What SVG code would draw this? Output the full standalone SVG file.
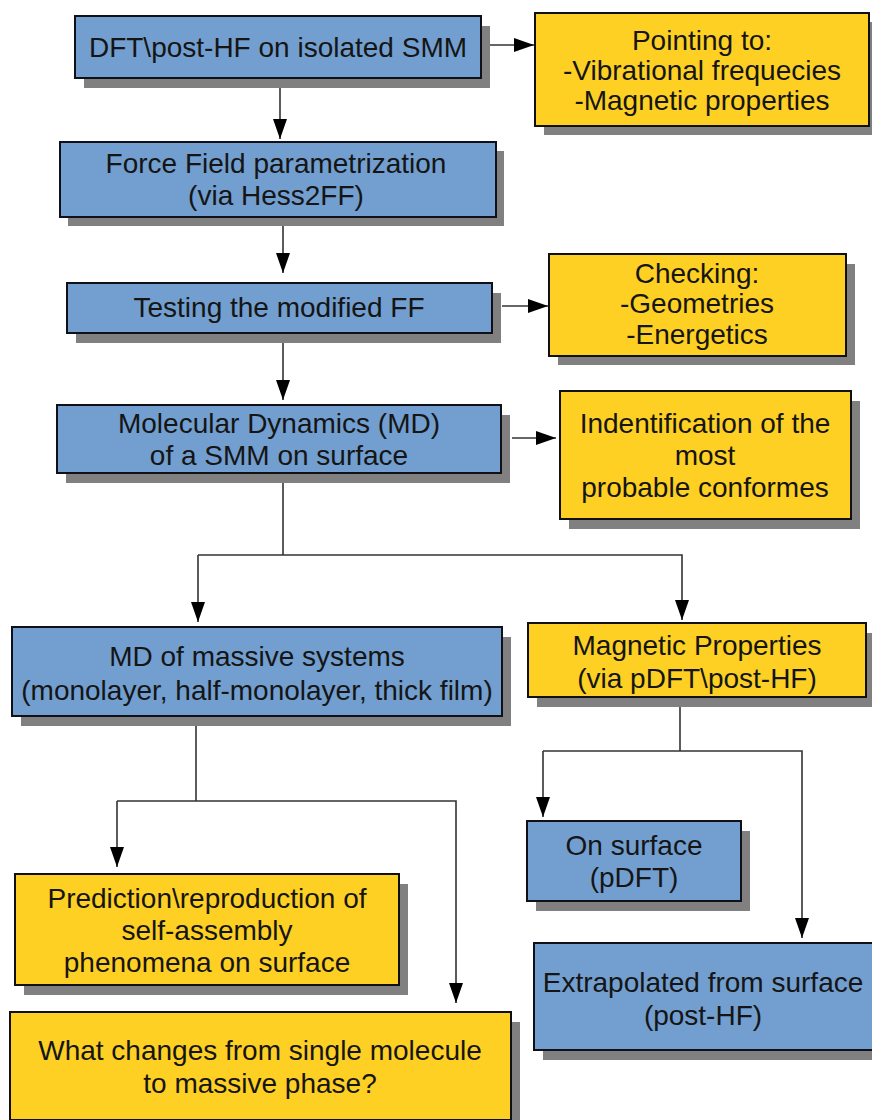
<svg xmlns="http://www.w3.org/2000/svg" width="872" height="1120" viewBox="0 0 872 1120">
<defs>
<marker id="ah" viewBox="0 0 20 14" refX="20" refY="7" markerWidth="20" markerHeight="14" markerUnits="userSpaceOnUse" orient="auto">
<path d="M0,0 L20,7 L0,14 z" fill="#000"/>
</marker>
</defs>
<style>
.sh{fill:#808080}
.blue{fill:#729fcf;stroke:#101018;stroke-width:2}
.yel{fill:#fdd023;stroke:#101010;stroke-width:2}
text{font-family:"Liberation Sans",Arial,sans-serif;font-size:28px;fill:#151515;text-anchor:middle}
.c{fill:none;stroke:#333;stroke-width:1.6}
.a{marker-end:url(#ah)}
</style>
<rect width="872" height="1120" fill="#fff"/>
<g id="connectors">
<path class="c a" d="M490,45 H534"/>
<path class="c a" d="M280,80 V139"/>
<path class="c a" d="M283,218 V273"/>
<path class="c a" d="M502,306 H548"/>
<path class="c a" d="M283,335 V400"/>
<path class="c a" d="M512,438 H556"/>
<path class="c" d="M283,475 V555"/>
<path class="c a" d="M198,555 H682 V620"/>
<path class="c a" d="M198,555 V622"/>
<path class="c" d="M680,699 V751"/>
<path class="c a" d="M543,751 V817"/>
<path class="c a" d="M543,751 H802 V938"/>
<path class="c" d="M196,718 V801"/>
<path class="c a" d="M117,801 V867"/>
<path class="c a" d="M117,801 H456 V1003"/>
</g>
<g id="n1">
<rect class="sh" x="84" y="26" width="406" height="62"/>
<rect class="blue" x="75" y="16" width="406" height="62"/>
<text x="278" y="57">DFT\post-HF on isolated SMM</text>
</g>
<g id="n2">
<rect class="sh" x="544" y="22" width="334" height="113"/>
<rect class="yel" x="535" y="13" width="334" height="113"/>
<text x="702" y="50">Pointing to:</text>
<text x="702" y="80">-Vibrational frequecies</text>
<text x="702" y="110">-Magnetic properties</text>
</g>
<g id="n3">
<rect class="sh" x="68" y="151" width="436" height="75"/>
<rect class="blue" x="60" y="142" width="436" height="75"/>
<text x="276" y="173">Force Field parametrization</text>
<text x="276" y="205">(via Hess2FF)</text>
</g>
<g id="n4">
<rect class="sh" x="76" y="293" width="425" height="50"/>
<rect class="blue" x="67" y="283" width="425" height="50"/>
<text x="279" y="317">Testing the modified FF</text>
</g>
<g id="n5">
<rect class="sh" x="558" y="264" width="297" height="101"/>
<rect class="yel" x="549" y="254" width="297" height="102"/>
<text x="697" y="283">Checking:</text>
<text x="697" y="313">-Geometries</text>
<text x="697" y="344">-Energetics</text>
</g>
<g id="n6">
<rect class="sh" x="66" y="415" width="444" height="68"/>
<rect class="blue" x="57" y="405" width="444" height="68"/>
<text x="279" y="433">Molecular Dynamics (MD)</text>
<text x="279" y="465">of a SMM on surface</text>
</g>
<g id="n7">
<rect class="sh" x="569" y="401" width="291" height="128"/>
<rect class="yel" x="560" y="391" width="291" height="128"/>
<text x="705" y="433">Indentification of the</text>
<text x="705" y="465">most</text>
<text x="705" y="497">probable conformes</text>
</g>
<g id="n8">
<rect class="sh" x="21" y="637" width="490" height="89"/>
<rect class="blue" x="12" y="627" width="490" height="89"/>
<text x="257" y="666">MD of massive systems</text>
<text x="257" y="700">(monolayer, half-monolayer, thick film)</text>
</g>
<g id="n9">
<rect class="sh" x="537" y="633" width="338" height="74"/>
<rect class="yel" x="528" y="623" width="338" height="74"/>
<text x="697" y="655">Magnetic Properties</text>
<text x="697" y="688">(via pDFT\post-HF)</text>
</g>
<g id="n10">
<rect class="sh" x="536" y="831" width="214" height="80"/>
<rect class="blue" x="527" y="821" width="214" height="80"/>
<text x="634" y="855">On surface</text>
<text x="634" y="887">(pDFT)</text>
</g>
<g id="n11">
<rect class="sh" x="543" y="953" width="340" height="107"/>
<rect class="blue" x="534" y="943" width="340" height="107"/>
<text x="703" y="992">Extrapolated from surface</text>
<text x="703" y="1025">(post-HF)</text>
</g>
<g id="n12">
<rect class="sh" x="24" y="884" width="384" height="111"/>
<rect class="yel" x="15" y="874" width="384" height="111"/>
<text x="207" y="908">Prediction\reproduction of</text>
<text x="207" y="940">self-assembly</text>
<text x="207" y="972">phenomena on surface</text>
</g>
<g id="n13">
<rect class="sh" x="19" y="1022" width="501" height="108"/>
<rect class="yel" x="10" y="1012" width="501" height="108"/>
<text x="260" y="1060">What changes from single molecule</text>
<text x="260" y="1093">to massive phase?</text>
</g>
</svg>
